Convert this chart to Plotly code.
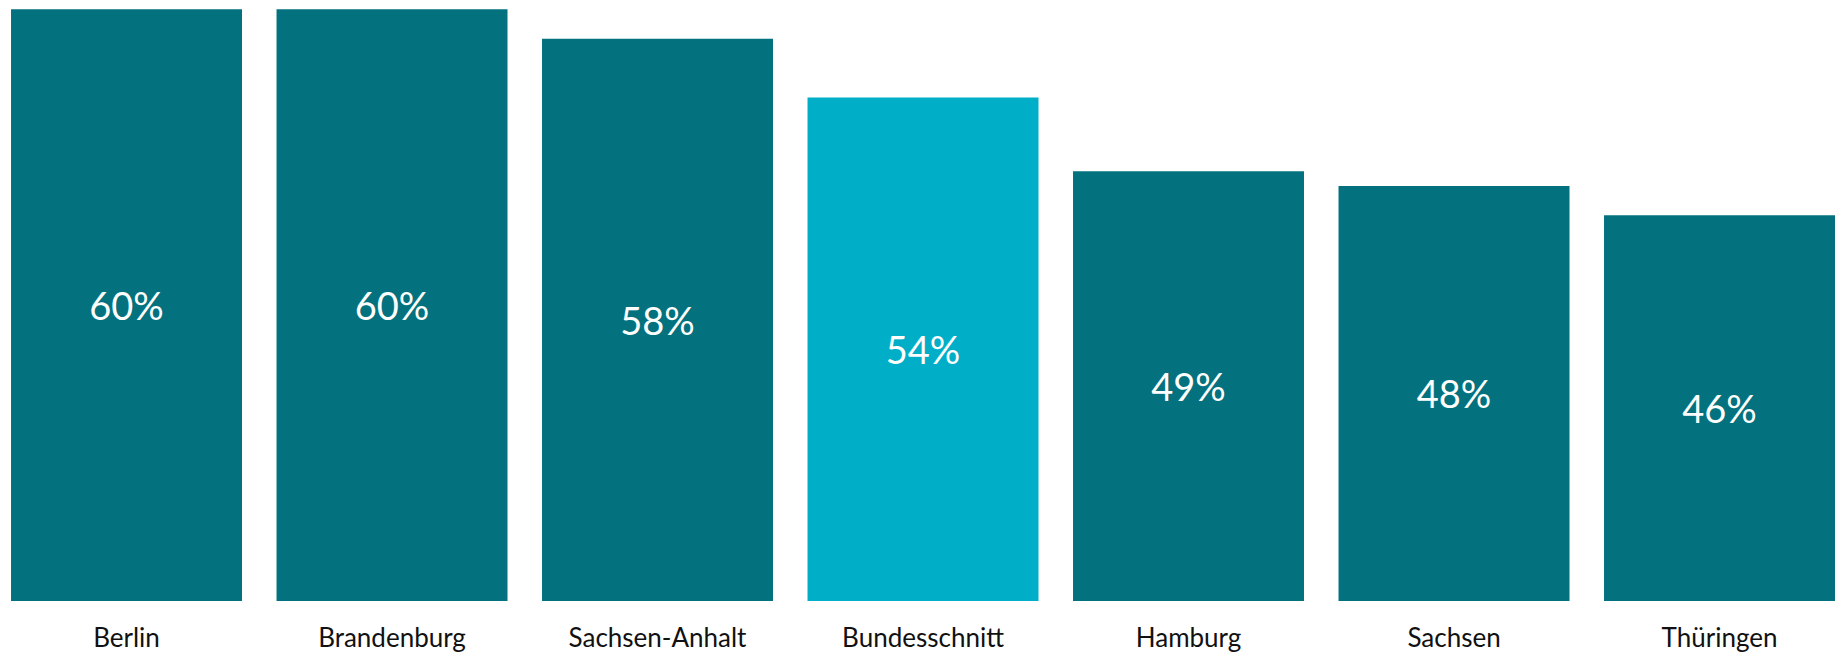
import plotly.graph_objects as go

# Anteil in Prozent je Bundesland
LAENDER = ["Berlin", "Brandenburg", "Sachsen-Anhalt", "Bundesschnitt",
           "Hamburg", "Sachsen", "Thüringen"]
WERTE = [60, 60, 58, 54, 49, 48, 46]
HERVORGEHOBEN = "Bundesschnitt"

COLOR_DARK = "#03727E"
COLOR_LIGHT = "#00AFC7"
FONT = "Lato, 'Noto Sans', sans-serif"

# untere Grenze der y-Achse (Balken beginnen hier, nicht bei 0)
Y_MIN = 19.8

colors = [COLOR_LIGHT if l == HERVORGEHOBEN else COLOR_DARK for l in LAENDER]

fig = go.Figure()
fig.add_trace(go.Bar(
    x=LAENDER,
    y=[v - Y_MIN for v in WERTE],
    base=[Y_MIN] * len(WERTE),
    customdata=WERTE,
    marker_color=colors,
    marker_line_width=0,
    text=[f"{v}%" for v in WERTE],
    textposition="inside",
    insidetextanchor="middle",
    textangle=0,
    textfont=dict(family=FONT, size=38, color="white"),
    hovertemplate="<b>%{x}</b><br>%{customdata}%<extra></extra>",
    showlegend=False,
))

fig.update_layout(
    width=1840,
    height=653,
    margin=dict(l=0, r=0, t=0, b=52),
    plot_bgcolor="white",
    paper_bgcolor="white",
    bargap=0.13,
    font=dict(family=FONT, color="#111111"),
    xaxis=dict(
        range=[-0.4765, 6.4538],
        showgrid=False,
        zeroline=False,
        showline=False,
        ticks="",
        tickfont=dict(size=26, color="#111111"),
        ticklabelstandoff=19,
    ),
    yaxis=dict(
        range=[Y_MIN, 60.63],
        visible=False,
        showgrid=False,
        zeroline=False,
    ),
)

fig.write_html(
    "out.html",
    config={"displayModeBar": False},
    post_script="document.body.style.margin='0';",
)
